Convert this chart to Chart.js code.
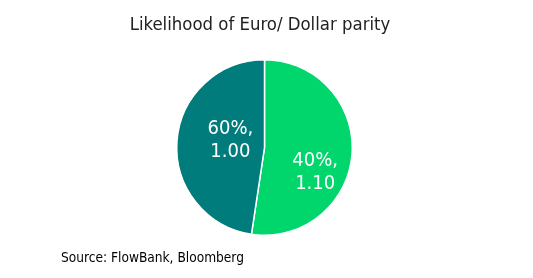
<!DOCTYPE html>
<html>
<head>
<meta charset="utf-8">
<script src="https://cdn.jsdelivr.net/npm/chart.js@4"></script>
<style>
  html, body { margin: 0; padding: 0; background: #fff; }
  #wrap { width: 533px; height: 278px; }
</style>
</head>
<body>
<div id="wrap"><canvas id="chart" width="533" height="278"></canvas></div>
<script>
// chart data
const categories = ['40%', '60%'];
const values = [1.10, 1.00];
const sliceColors = ['#00D66C', '#007C7C'];
const titleText = 'Likelihood of Euro/ Dollar parity';
const sourceText = 'Source: FlowBank, Bloomberg';

const fontFamily = '"DejaVu Sans Condensed", "DejaVu Sans", Tahoma, sans-serif';

// draws "category, value" inside each slice, on two lines
const sliceLabels = {
    id: 'sliceLabels',
    afterDatasetsDraw(chart, args, opts) {
        const ctx = chart.ctx;
        const meta = chart.getDatasetMeta(0);
        ctx.save();
        ctx.fillStyle = '#ffffff';
        ctx.font = '20px ' + fontFamily;
        ctx.textAlign = 'center';
        ctx.textBaseline = 'middle';
        meta.data.forEach((arc, i) => {
            const p = arc.getProps(['x', 'y', 'startAngle', 'endAngle', 'outerRadius'], true);
            const mid = (p.startAngle + p.endAngle) / 2 + opts.angleShift[i];
            const r = p.outerRadius * opts.radius[i];
            const cx = p.x + Math.cos(mid) * r;
            const cy = p.y + Math.sin(mid) * r;
            ctx.fillText(categories[i] + ',', cx, cy - 11);
            ctx.fillText(values[i].toFixed(2), cx, cy + 12);
        });
        ctx.restore();
    }
};

// title on top and source note under the chart
const headerFooter = {
    id: 'headerFooter',
    afterDraw(chart) {
        const ctx = chart.ctx;
        ctx.save();
        ctx.textBaseline = 'middle';
        ctx.fillStyle = '#222222';
        ctx.font = '18.4px ' + fontFamily;
        ctx.textAlign = 'center';
        ctx.fillText(titleText, 260, 25);
        ctx.fillStyle = '#000000';
        ctx.font = '13.6px ' + fontFamily;
        ctx.textAlign = 'left';
        ctx.fillText(sourceText, 61, 258);
        ctx.restore();
    }
};

new Chart(document.getElementById('chart'), {
    type: 'pie',
    data: {
        labels: categories,
        datasets: [{
            data: values,
            backgroundColor: sliceColors,
            borderColor: '#ffffff',
            borderWidth: 1.5
        }]
    },
    options: {
        responsive: false,
        animation: false,
        layout: { padding: { top: 59, bottom: 42, left: 0, right: 4 } },
        plugins: {
            legend: { display: false },
            tooltip: { enabled: false },
            title: { display: false },
            sliceLabels: {
                angleShift: [0.37, 0.16],
                radius: [0.64, 0.40]
            }
        }
    },
    plugins: [sliceLabels, headerFooter]
});
</script>
</body>
</html>
